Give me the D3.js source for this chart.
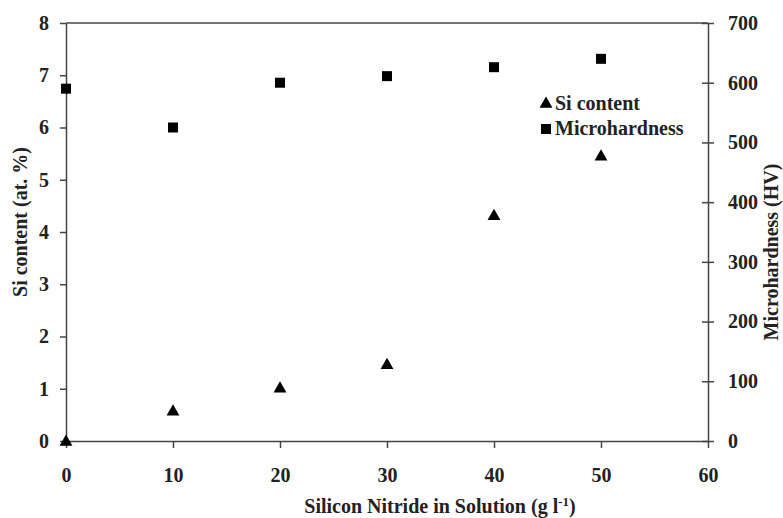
<!DOCTYPE html>
<html>
<head>
<meta charset="utf-8">
<script src="https://cdn.jsdelivr.net/npm/d3@7"></script>
<style>
	body { margin: 0; background: #fff; }
	text { font-family: "Liberation Serif", "Times New Roman", serif; font-weight: bold; fill: #222; }
	.axis path, .axis line { stroke: #444; stroke-width: 1.5; }
</style>
</head>
<body>
<svg id="plot" width="783" height="518"></svg>
<script>
// chart values
const X_VALUES = [0, 10, 20, 30, 40, 50];
const SI_CONTENT = [0, 0.58, 1.02, 1.47, 4.32, 5.46];
const MICROHARDNESS = [590, 525, 600, 611, 626, 640];
const X_TICKS = [0, 10, 20, 30, 40, 50, 60];
const SI_TICKS = [0, 1, 2, 3, 4, 5, 6, 7, 8];
const HV_TICKS = [0, 100, 200, 300, 400, 500, 600, 700];

const svg = d3.select('#plot');
const M = { left: 66, right: 708, top: 23, bottom: 441 };

const x = d3.scaleLinear().domain([0, 60]).range([M.left, M.right]);
const ySi = d3.scaleLinear().domain([0, 8]).range([M.bottom, M.top]);
const yHv = d3.scaleLinear().domain([0, 700]).range([M.bottom, M.top]);

// top border of the frame
svg.append('line')
	.attr('x1', M.left).attr('x2', M.right)
	.attr('y1', M.top).attr('y2', M.top)
	.attr('stroke', '#444').attr('stroke-width', 1.5);

const fs = '20px';

// x axis
svg.append('g')
	.attr('class', 'axis')
	.attr('transform', `translate(0,${M.bottom})`)
	.call(d3.axisBottom(x).tickValues(X_TICKS).tickSize(7).tickPadding(20).tickSizeOuter(0))
	.call(g => g.selectAll('text').style('font-size', fs));

// left axis
svg.append('g')
	.attr('class', 'axis')
	.attr('transform', `translate(${M.left},0)`)
	.call(d3.axisLeft(ySi).tickValues(SI_TICKS).tickSize(6).tickPadding(11).tickSizeOuter(0))
	.call(g => g.selectAll('text').style('font-size', fs));

// right axis, ticks cross the line
svg.append('g')
	.attr('class', 'axis')
	.attr('transform', `translate(${M.right},0)`)
	.call(d3.axisRight(yHv).tickValues(HV_TICKS).tickSize(6).tickPadding(14).tickSizeOuter(0))
	.call(g => g.selectAll('.tick line').attr('x1', -6))
	.call(g => g.selectAll('text').style('font-size', fs));

svg.selectAll('.axis text').attr('fill', '#222').style('font-family', '"Liberation Serif", serif');

const data = X_VALUES.map((v, i) => ({x: v, si: SI_CONTENT[i], hv: MICROHARDNESS[i]}));

const tri = d3.symbol().type(d3.symbolTriangle).size(72);
const sq = d3.symbol().type(d3.symbolSquare).size(100);

svg.append('g').selectAll('path')
	.data(data)
	.enter().append('path')
	.attr('d', sq)
	.attr('transform', d => `translate(${x(d.x)},${yHv(d.hv)})`)
	.attr('fill', '#000');

svg.append('g').selectAll('path')
	.data(data)
	.enter().append('path')
	.attr('d', tri)
	.attr('transform', d => `translate(${x(d.x)},${ySi(d.si) + 1})`)
	.attr('fill', '#000');

// legend
const legend = svg.append('g');
legend.append('path').attr('d', tri).attr('transform', 'translate(546,104)').attr('fill', '#000');
legend.append('text').attr('x', 555).attr('y', 110).style('font-size', fs).text('Si content');
legend.append('path').attr('d', sq).attr('transform', 'translate(546,129)').attr('fill', '#000');
legend.append('text').attr('x', 555).attr('y', 135).style('font-size', fs).text('Microhardness');

// axis titles
const xt = svg.append('text')
	.attr('x', 440).attr('y', 513)
	.attr('text-anchor', 'middle')
	.style('font-size', fs);
xt.append('tspan').text('Silicon Nitride in Solution (g l');
xt.append('tspan').attr('dy', -7).style('font-size', '13px').text('-1');
xt.append('tspan').attr('dy', 7).text(')');

svg.append('text')
	.attr('transform', 'translate(27,222) rotate(-90)')
	.attr('text-anchor', 'middle')
	.style('font-size', fs)
	.text('Si content (at. %)');

svg.append('text')
	.attr('transform', 'translate(778,252) rotate(-90)')
	.attr('text-anchor', 'middle')
	.style('font-size', fs)
	.text('Microhardness (HV)');
</script>
</body>
</html>
